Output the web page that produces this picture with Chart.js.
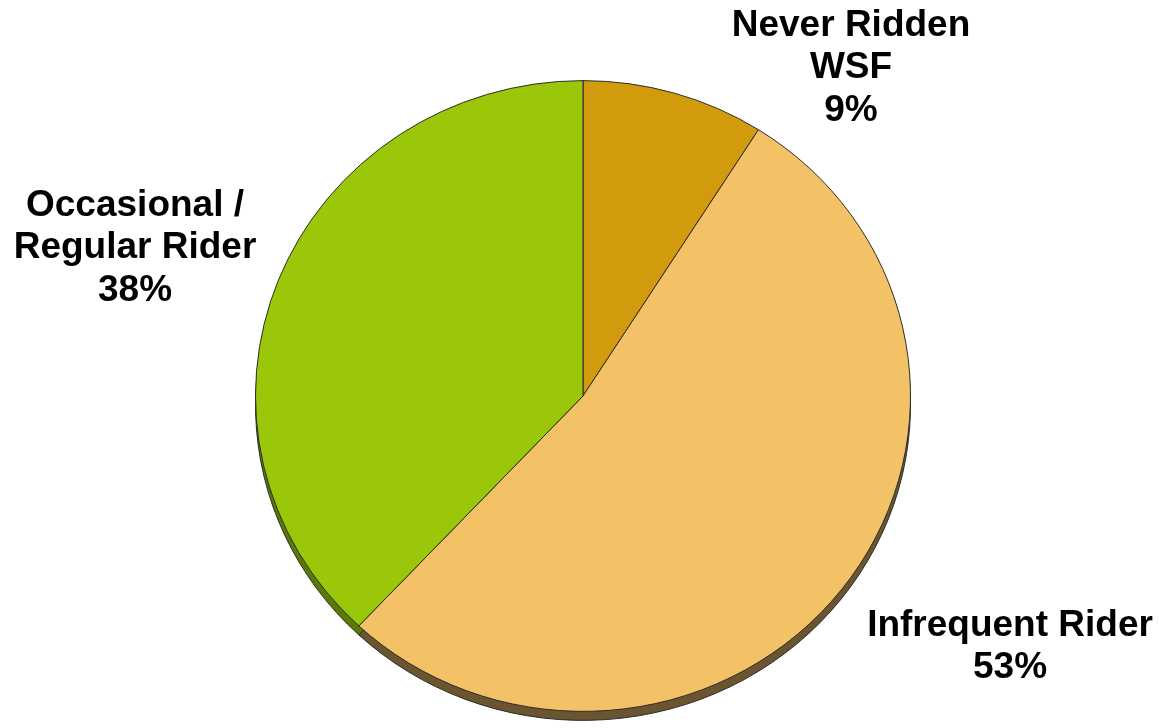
<!DOCTYPE html>
<html>
<head>
<meta charset="utf-8">
<script src="https://cdn.jsdelivr.net/npm/chart.js@4"></script>
<style>
  html, body { margin: 0; padding: 0; background: #ffffff; }
  #wrap { width: 1159px; height: 728px; position: relative; }
</style>
</head>
<body>
<div id="wrap"><canvas id="chart"></canvas></div>
<script>
// Rider segments, clockwise from 12 o'clock
const categories = ['Never Ridden WSF', 'Infrequent Rider', 'Occasional / Regular Rider']
const shares = [9, 53, 38]
const labelLines = [['Never Ridden', 'WSF'], ['Infrequent Rider'], ['Occasional /', 'Regular Rider']]

const sliceColors = ['#D19B0D', '#F3C266', '#9BC70A']
const rimColors = ['#6E5410', '#6B5530', '#5A7A05']

// where each label block is centred, relative to the pie centre
const labelAnchors = [
  { dx: 268, dy: -328 },
  { dx: 427, dy: 251 },
  { dx: -448, dy: -148 }
]

const squash = 0.963   // slight tilt of the pie
const rimDepth = 9

function tilt(ctx, x, y) {
  ctx.translate(x, y)
  ctx.scale(1, squash)
  ctx.translate(-x, -y)
}

// draws the 3D rim under the pie and squashes it into an ellipse
const tiltedPie = {
  id: 'tiltedPie',
  beforeDatasetsDraw(chart) {
    const ctx = chart.ctx
    const arcs = chart.getDatasetMeta(0).data
    const { x, y } = arcs[0]
    ctx.save()
    tilt(ctx, x, y)
    arcs.forEach((arc, i) => {
      const r = arc.outerRadius
      ctx.beginPath()
      ctx.moveTo(x, y + rimDepth / squash)
      ctx.arc(x, y + rimDepth / squash, r, arc.startAngle, arc.endAngle)
      ctx.closePath()
      ctx.fillStyle = rimColors[i]
      ctx.fill()
      ctx.lineWidth = 1
      ctx.strokeStyle = '#2a2a2a'
      ctx.stroke()
    })
  },
  afterDatasetsDraw(chart) {
    chart.ctx.restore()
  }
}

// multi-line bold labels with category and percentage
const pieLabels = {
  id: 'pieLabels',
  afterDraw(chart) {
    const ctx = chart.ctx
    const arcs = chart.getDatasetMeta(0).data
    const { x, y } = arcs[0]
    const lineHeight = 42.5
    ctx.save()
    ctx.font = 'bold 37px "Liberation Sans", Arial, sans-serif'
    ctx.fillStyle = '#000000'
    ctx.textAlign = 'center'
    ctx.textBaseline = 'middle'
    shares.forEach((v, i) => {
      const lines = labelLines[i].concat([v + '%'])
      const cx = x + labelAnchors[i].dx
      const cy = y + labelAnchors[i].dy
      const top = cy - (lines.length - 1) * lineHeight / 2
      lines.forEach((t, j) => ctx.fillText(t, cx, top + j * lineHeight))
    })
    ctx.restore()
  }
}

new Chart(document.getElementById('chart'), {
  type: 'pie',
  data: {
    labels: categories,
    datasets: [{
      data: shares,
      backgroundColor: sliceColors,
      borderColor: '#2a2a2a',
      borderWidth: 1,
      borderAlign: 'center'
    }]
  },
  options: {
    responsive: true,
    maintainAspectRatio: false,
    animation: false,
    layout: {
      padding: { left: 255, right: 248, top: 68, bottom: 4 }
    },
    plugins: {
      legend: { display: false },
      tooltip: { enabled: false }
    }
  },
  plugins: [tiltedPie, pieLabels]
})
</script>
</body>
</html>
